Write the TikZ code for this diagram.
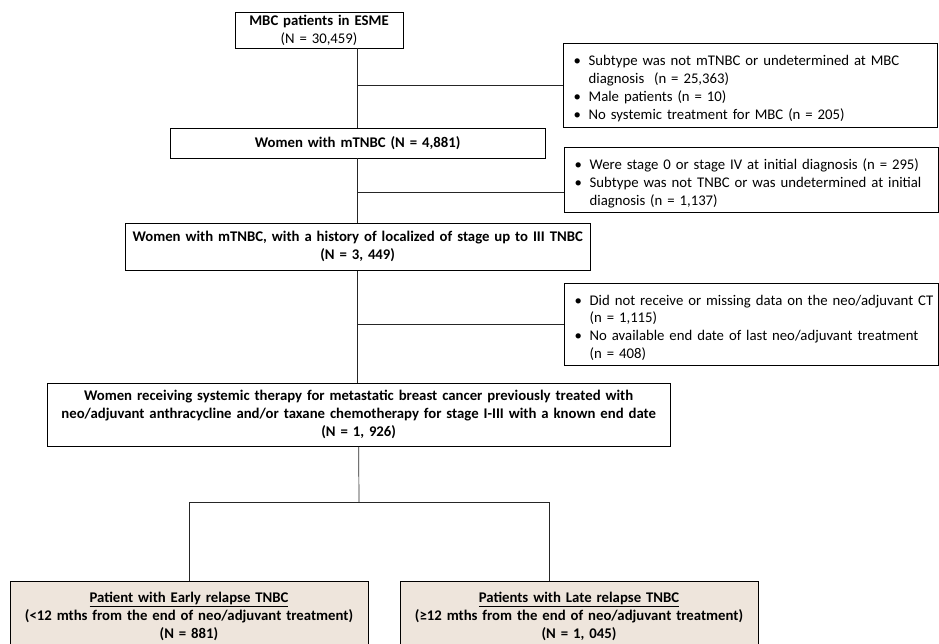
\documentclass[tikz,border=0pt]{standalone}
\usepackage{fontspec}
\setmainfont{Carlito}
\usepackage{xcolor}
\definecolor{relapsefill}{RGB}{238,229,220}
\newcommand{\flowfont}{\fontsize{12.6}{15.3}\selectfont}
\newcommand{\exitem}{\par\noindent\hangindent=0.60cm\hangafter=1\makebox[0.60cm][l]{\hspace{0.15cm}\textbullet}}
\begin{document}
\begin{tikzpicture}[
		flowbox/.style={draw=black, line width=0.8pt, align=center, inner sep=0pt, font=\flowfont\bfseries},
		exclbox/.style={draw=black, line width=0.8pt, align=left, inner xsep=0.15cm, inner ysep=0pt, text width=10.92cm, font=\flowfont},
		relapsebox/.style={flowbox, fill=relapsefill},
		link/.style={draw=black!85, line width=0.6pt}]
		\useasboundingbox (0.00,0.00) rectangle (28.17,-19.32);
		\node[flowbox, text width=5.04cm, minimum height=1.08cm] (esme) at (9.57,-0.90) {MBC patients in ESME\\{\mdseries (N = 30,459)}};
		\node[flowbox, text width=11.25cm, minimum height=0.90cm] (women) at (10.73,-4.29) {Women with mTNBC (N = 4,881)};
		\node[flowbox, text width=13.95cm, minimum height=1.41cm] (localized) at (10.73,-7.40) {Women with mTNBC, with a history of localized of stage up to III TNBC\\(N = 3, 449)};
		\node[flowbox, text width=18.69cm, minimum height=1.89cm] (treated) at (10.76,-12.44) {Women receiving systemic therapy for metastatic breast cancer previously treated with\\neo/adjuvant anthracycline and/or taxane chemotherapy for stage I-III with a known end date\\(N = 1, 926)};
		\node[relapsebox, text width=10.74cm, minimum height=2.10cm] (early) at (5.67,-18.48) {\underline{Patient with Early relapse TNBC}\\(<12 mths from the end of neo/adjuvant treatment)\\(N = 881)};
		\node[relapsebox, text width=10.74cm, minimum height=2.10cm] (late) at (17.37,-18.48) {\underline{Patients with Late relapse TNBC}\\(≥12 mths from the end of neo/adjuvant treatment)\\(N = 1, 045)};
		\node[exclbox, minimum height=2.52cm] (excl1) at (22.52,-2.55) {\exitem\mbox{Subtype was not mTNBC or undetermined at MBC}\newline diagnosis\ \ (n = 25,363)\exitem Male patients (n = 10)\exitem No systemic treatment for MBC (n = 205)\par};
		\node[exclbox, minimum height=1.95cm] (excl2) at (22.55,-5.39) {\exitem\mbox{Were stage 0 or stage IV at initial diagnosis (n = 295)}\exitem\mbox{Subtype was not TNBC or was undetermined at initial}\newline diagnosis (n = 1,137)\par};
		\node[exclbox, minimum height=2.46cm] (excl3) at (22.55,-9.72) {\exitem\mbox{Did not receive or missing data on the neo/adjuvant CT}\newline (n = 1,115)\exitem\mbox{No available end date of last neo/adjuvant treatment}\newline (n = 408)\par};
		\coordinate (cut2) at (10.73,-5.76);
		\coordinate (split) at (10.77,-15.06);
		\coordinate (lateleg) at (16.47,-15.06);
		\draw[link] (esme.south -| women.north) -- (women.north);
		\draw[link] (women.south) -- (localized.north);
		\draw[link] (localized.south) -- (localized.south |- treated.north);
		\draw[link] (excl1.west -| women.north) -- (excl1.west);
		\draw[link] (cut2) -- (cut2 -| excl2.west);
		\draw[link] (excl3.west -| localized.south) -- (excl3.west);
		\draw[link] (treated.south) -- (split);
		\draw[link] (early.north) -- (early.north |- split) -- (lateleg) -- (lateleg |- late.north);
\end{tikzpicture}
\end{document}
